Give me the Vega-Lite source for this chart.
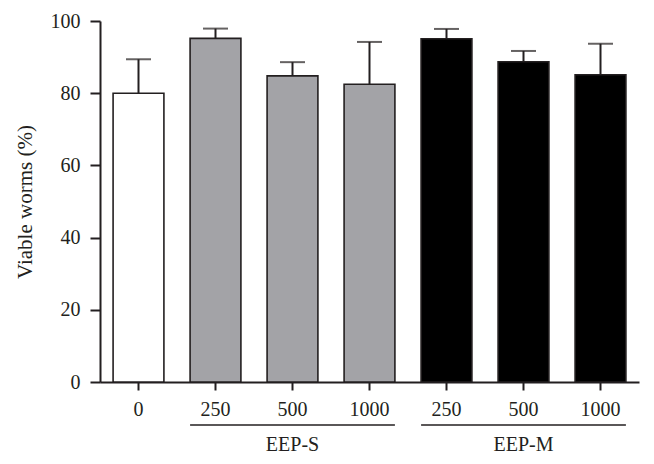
{
  "$schema": "https://vega.github.io/schema/vega-lite/v6.json",
  "width": 539,
  "height": 361,
  "autosize": {"type": "none"},
  "padding": {"left": 100, "top": 21, "right": 15, "bottom": 82},
  "background": "white",
  "config": {
    "view": {"stroke": null},
    "font": "Liberation Serif",
    "axis": {
      "labelFont": "Liberation Serif",
      "titleFont": "Liberation Serif",
      "labelFontSize": 20,
      "titleFontSize": 21,
      "labelColor": "#231f20",
      "titleColor": "#231f20",
      "domainColor": "#231f20",
      "tickColor": "#231f20",
      "domainWidth": 2,
      "tickWidth": 2,
      "grid": false,
      "titleFontWeight": "normal"
    },
    "axisX": {"labelAngle": 0, "labelAlign": "center", "labelBaseline": "top", "tickSize": 8, "labelPadding": 9}
  },
  "datasets": {
    "bars": [
      {"key": "C|0", "group": "C", "value": 80.0, "upper": 89.4},
      {"key": "S|250", "group": "S", "value": 95.2, "upper": 97.9},
      {"key": "S|500", "group": "S", "value": 84.8, "upper": 88.6},
      {"key": "S|1000", "group": "S", "value": 82.5, "upper": 94.2},
      {"key": "M|250", "group": "M", "value": 95.1, "upper": 97.8},
      {"key": "M|500", "group": "M", "value": 88.7, "upper": 91.7},
      {"key": "M|1000", "group": "M", "value": 85.1, "upper": 93.7}
    ],
    "groups": [
      {"name": "EEP-S", "start": "S|250", "mid": "S|500", "end": "S|1000"},
      {"name": "EEP-M", "start": "M|250", "mid": "M|500", "end": "M|1000"}
    ]
  },
  "layer": [
    {
      "data": {"name": "bars"},
      "mark": {"type": "bar", "stroke": "#231f20", "strokeWidth": 1.6},
      "encoding": {
        "x": {
          "field": "key",
          "type": "nominal",
          "sort": null,
          "scale": {
            "domain": ["C|0", "S|250", "S|500", "S|1000", "M|250", "M|500", "M|1000"],
            "paddingInner": 0.34,
            "paddingOuter": 0.17
          },
          "axis": {
            "title": null,
            "labelAngle": 0,
            "labelAlign": "center",
            "labelBaseline": "top",
            "tickSize": 8,
            "labelPadding": 9,
            "labelExpr": "split(datum.value, '|')[1]"
          }
        },
        "y": {
          "field": "value",
          "type": "quantitative",
          "scale": {"domain": [0, 100], "nice": false},
          "axis": {
            "title": "Viable worms (%)",
            "values": [0, 20, 40, 60, 80, 100],
            "tickSize": 10,
            "labelPadding": 10,
            "titlePadding": 15
          }
        },
        "fill": {
          "field": "group",
          "type": "nominal",
          "scale": {"domain": ["C", "S", "M"], "range": ["#ffffff", "#a3a3a7", "#000000"]},
          "legend": null
        }
      }
    },
    {
      "data": {"name": "bars"},
      "mark": {"type": "rule", "color": "#231f20", "strokeWidth": 2},
      "encoding": {
        "x": {"field": "key", "type": "nominal", "sort": null},
        "y": {"field": "value", "type": "quantitative"},
        "y2": {"field": "upper"}
      }
    },
    {
      "data": {"name": "bars"},
      "mark": {"type": "tick", "color": "#231f20", "thickness": 2, "size": 25, "orient": "horizontal"},
      "encoding": {
        "x": {"field": "key", "type": "nominal", "sort": null},
        "y": {"field": "upper", "type": "quantitative"}
      }
    },
    {
      "data": {"name": "groups"},
      "mark": {"type": "rule", "color": "#231f20", "strokeWidth": 1.5},
      "encoding": {
        "x": {"field": "start", "type": "nominal", "bandPosition": 0},
        "x2": {"field": "end", "bandPosition": 1},
        "y": {"datum": -11.9, "type": "quantitative"}
      }
    },
    {
      "data": {"name": "groups"},
      "mark": {"type": "text", "font": "Liberation Serif", "fontSize": 20, "color": "#231f20", "baseline": "alphabetic", "align": "center"},
      "encoding": {
        "x": {"field": "mid", "type": "nominal"},
        "y": {"datum": -19.0, "type": "quantitative"},
        "text": {"field": "name"}
      }
    }
  ]
}
